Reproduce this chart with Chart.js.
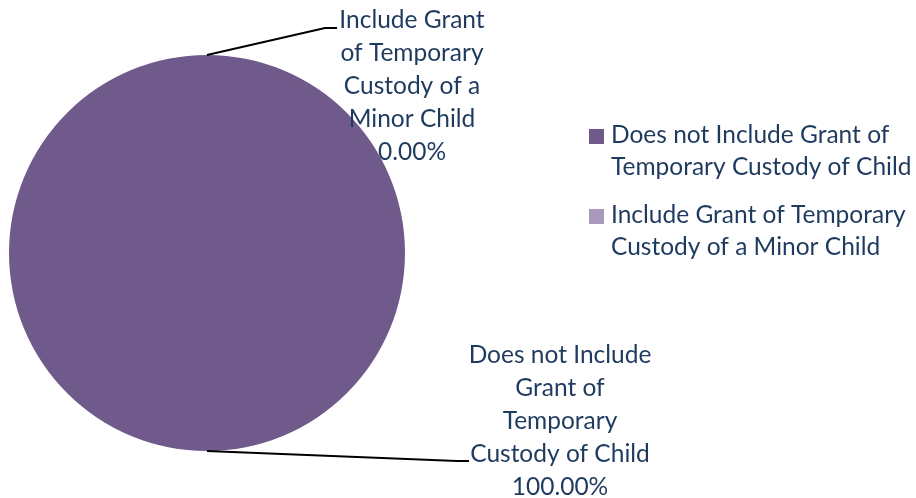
<!DOCTYPE html>
<html>
<head>
<meta charset="utf-8">
<script src="https://cdn.jsdelivr.net/npm/chart.js@4"></script>
<style>
  html, body { margin: 0; padding: 0; background: #fff; }
  #wrap { width: 916px; height: 498px; }
</style>
</head>
<body>
<div id="wrap"><canvas id="pie"></canvas></div>
<script>
// data
const categories = ['Does not Include Grant of Temporary Custody of Child', 'Include Grant of Temporary Custody of a Minor Child'];
const shares = [100, 0];
const sliceColors = ['#705a8c', '#a99abd'];

// wrapped text for data labels and legend
const labelLines = [
  ['Does not Include', 'Grant of', 'Temporary', 'Custody of Child'],
  ['Include Grant', 'of Temporary', 'Custody of a', 'Minor Child']
];
const legendLines = [
  ['Does not Include Grant of', 'Temporary Custody of Child'],
  ['Include Grant of Temporary', 'Custody of a Minor Child']
];

const FONT = '24.5px Lato';
const TEXT = '#1f3a5f';

// leader line + label offsets from the slice anchor point
const labelLayout = [
  { elbow: [250, 10], textX: 353, textTop: -96 },
  { elbow: [118, -27], textX: 205, textTop: -35 }
];

const calloutPlugin = {
  id: 'callouts',
  afterDatasetsDraw(chart) {
    const ctx = chart.ctx;
    const meta = chart.getDatasetMeta(0);
    ctx.save();
    ctx.font = FONT;
    ctx.fillStyle = TEXT;
    ctx.textAlign = 'center';
    ctx.textBaseline = 'middle';
    meta.data.forEach((arc, i) => {
      const p = arc.getProps(['x', 'y', 'startAngle', 'endAngle', 'outerRadius'], true);
      const mid = (p.startAngle + p.endAngle) / 2;
      const ax = p.x + Math.cos(mid) * p.outerRadius;
      const ay = p.y + Math.sin(mid) * p.outerRadius;
      const lay = labelLayout[i];
      const ex = ax + lay.elbow[0], ey = ay + lay.elbow[1];
      ctx.strokeStyle = '#000';
      ctx.lineWidth = 2;
      ctx.beginPath();
      ctx.moveTo(ax, ay);
      ctx.lineTo(ex, ey);
      ctx.lineTo(ex + 12, ey);
      ctx.stroke();
      const lines = labelLines[i].concat([shares[i].toFixed(2) + '%']);
      lines.forEach((t, k) => {
        ctx.fillText(t, ax + lay.textX, ay + lay.textTop + k * 33);
      });
    });
    // legend
    ctx.textAlign = 'left';
    const lx = 589, ly = 135;
    categories.forEach((c, i) => {
      const y0 = ly + i * 80;
      ctx.fillStyle = sliceColors[i];
      ctx.fillRect(lx, y0 - 6, 15, 15);
      ctx.fillStyle = TEXT;
      legendLines[i].forEach((t, k) => ctx.fillText(t, lx + 22, y0 + k * 32));
    });
    ctx.restore();
  }
};

new Chart(document.getElementById('pie'), {
  type: 'pie',
  data: {
    labels: categories,
    datasets: [{
      data: shares,
      backgroundColor: sliceColors,
      borderWidth: 0
    }]
  },
  options: {
    responsive: true,
    maintainAspectRatio: false,
    animation: false,
    layout: { padding: { left: 9, top: 55, bottom: 47, right: 511 } },
    plugins: {
      legend: { display: false },
      tooltip: { enabled: false }
    }
  },
  plugins: [calloutPlugin]
});
</script>
</body>
</html>
